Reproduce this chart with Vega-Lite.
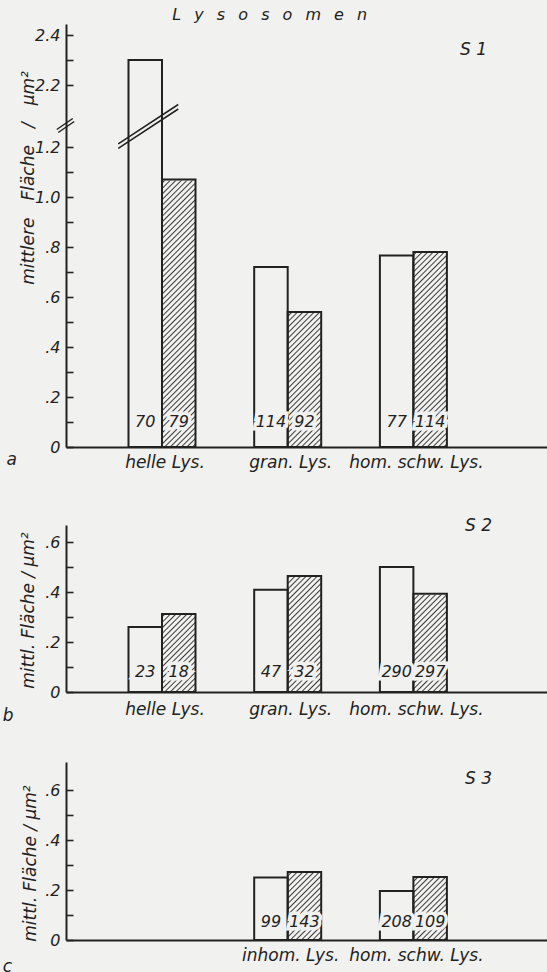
{
  "$schema": "https://vega.github.io/schema/vega-lite/v6.json",
  "background": "#f1f1ef",
  "padding": {"left": 2, "top": 7, "right": 0, "bottom": 0},
  "params": [
    {
      "name": "hatch",
      "value": {
        "gradient": "linear", "x1": 0, "y1": 0, "x2": 0.13466, "y2": 1.10542,
        "stops": [
          {"offset": 0, "color": "#383838"}, {"offset": 0.0045, "color": "#f1f1ef"}, {"offset": 0.0135, "color": "#f1f1ef"},
          {"offset": 0.018, "color": "#383838"}, {"offset": 0.0225, "color": "#f1f1ef"}, {"offset": 0.0315, "color": "#f1f1ef"},
          {"offset": 0.036, "color": "#383838"}, {"offset": 0.0405, "color": "#f1f1ef"}, {"offset": 0.0495, "color": "#f1f1ef"},
          {"offset": 0.054, "color": "#383838"}, {"offset": 0.0585, "color": "#f1f1ef"}, {"offset": 0.0675, "color": "#f1f1ef"},
          {"offset": 0.072, "color": "#383838"}, {"offset": 0.0765, "color": "#f1f1ef"}, {"offset": 0.0855, "color": "#f1f1ef"},
          {"offset": 0.09, "color": "#383838"}, {"offset": 0.0945, "color": "#f1f1ef"}, {"offset": 0.1035, "color": "#f1f1ef"},
          {"offset": 0.108, "color": "#383838"}, {"offset": 0.1125, "color": "#f1f1ef"}, {"offset": 0.1215, "color": "#f1f1ef"},
          {"offset": 0.126, "color": "#383838"}, {"offset": 0.1305, "color": "#f1f1ef"}, {"offset": 0.1395, "color": "#f1f1ef"},
          {"offset": 0.144, "color": "#383838"}, {"offset": 0.1485, "color": "#f1f1ef"}, {"offset": 0.1575, "color": "#f1f1ef"},
          {"offset": 0.162, "color": "#383838"}, {"offset": 0.1665, "color": "#f1f1ef"}, {"offset": 0.1755, "color": "#f1f1ef"},
          {"offset": 0.18, "color": "#383838"}, {"offset": 0.1845, "color": "#f1f1ef"}, {"offset": 0.1935, "color": "#f1f1ef"},
          {"offset": 0.198, "color": "#383838"}, {"offset": 0.2025, "color": "#f1f1ef"}, {"offset": 0.2115, "color": "#f1f1ef"},
          {"offset": 0.216, "color": "#383838"}, {"offset": 0.2205, "color": "#f1f1ef"}, {"offset": 0.2295, "color": "#f1f1ef"},
          {"offset": 0.234, "color": "#383838"}, {"offset": 0.2385, "color": "#f1f1ef"}, {"offset": 0.2475, "color": "#f1f1ef"},
          {"offset": 0.252, "color": "#383838"}, {"offset": 0.2565, "color": "#f1f1ef"}, {"offset": 0.2655, "color": "#f1f1ef"},
          {"offset": 0.27, "color": "#383838"}, {"offset": 0.2745, "color": "#f1f1ef"}, {"offset": 0.2835, "color": "#f1f1ef"},
          {"offset": 0.288, "color": "#383838"}, {"offset": 0.2925, "color": "#f1f1ef"}, {"offset": 0.3015, "color": "#f1f1ef"},
          {"offset": 0.306, "color": "#383838"}, {"offset": 0.3105, "color": "#f1f1ef"}, {"offset": 0.3195, "color": "#f1f1ef"},
          {"offset": 0.324, "color": "#383838"}, {"offset": 0.3285, "color": "#f1f1ef"}, {"offset": 0.3375, "color": "#f1f1ef"},
          {"offset": 0.342, "color": "#383838"}, {"offset": 0.3465, "color": "#f1f1ef"}, {"offset": 0.3555, "color": "#f1f1ef"},
          {"offset": 0.36, "color": "#383838"}, {"offset": 0.3645, "color": "#f1f1ef"}, {"offset": 0.3735, "color": "#f1f1ef"},
          {"offset": 0.378, "color": "#383838"}, {"offset": 0.3825, "color": "#f1f1ef"}, {"offset": 0.3915, "color": "#f1f1ef"},
          {"offset": 0.396, "color": "#383838"}, {"offset": 0.4005, "color": "#f1f1ef"}, {"offset": 0.4095, "color": "#f1f1ef"},
          {"offset": 0.414, "color": "#383838"}, {"offset": 0.4185, "color": "#f1f1ef"}, {"offset": 0.4275, "color": "#f1f1ef"},
          {"offset": 0.432, "color": "#383838"}, {"offset": 0.4365, "color": "#f1f1ef"}, {"offset": 0.4455, "color": "#f1f1ef"},
          {"offset": 0.45, "color": "#383838"}, {"offset": 0.4545, "color": "#f1f1ef"}, {"offset": 0.4635, "color": "#f1f1ef"},
          {"offset": 0.468, "color": "#383838"}, {"offset": 0.4725, "color": "#f1f1ef"}, {"offset": 0.4815, "color": "#f1f1ef"},
          {"offset": 0.486, "color": "#383838"}, {"offset": 0.4905, "color": "#f1f1ef"}, {"offset": 0.4995, "color": "#f1f1ef"},
          {"offset": 0.504, "color": "#383838"}, {"offset": 0.5085, "color": "#f1f1ef"}, {"offset": 0.5175, "color": "#f1f1ef"},
          {"offset": 0.522, "color": "#383838"}, {"offset": 0.5265, "color": "#f1f1ef"}, {"offset": 0.5355, "color": "#f1f1ef"},
          {"offset": 0.54, "color": "#383838"}, {"offset": 0.5445, "color": "#f1f1ef"}, {"offset": 0.5535, "color": "#f1f1ef"},
          {"offset": 0.558, "color": "#383838"}, {"offset": 0.5625, "color": "#f1f1ef"}, {"offset": 0.5715, "color": "#f1f1ef"},
          {"offset": 0.576, "color": "#383838"}, {"offset": 0.5805, "color": "#f1f1ef"}, {"offset": 0.5895, "color": "#f1f1ef"},
          {"offset": 0.594, "color": "#383838"}, {"offset": 0.5985, "color": "#f1f1ef"}, {"offset": 0.6075, "color": "#f1f1ef"},
          {"offset": 0.612, "color": "#383838"}, {"offset": 0.6165, "color": "#f1f1ef"}, {"offset": 0.6255, "color": "#f1f1ef"},
          {"offset": 0.63, "color": "#383838"}, {"offset": 0.6345, "color": "#f1f1ef"}, {"offset": 0.6435, "color": "#f1f1ef"},
          {"offset": 0.648, "color": "#383838"}, {"offset": 0.6525, "color": "#f1f1ef"}, {"offset": 0.6615, "color": "#f1f1ef"},
          {"offset": 0.666, "color": "#383838"}, {"offset": 0.6705, "color": "#f1f1ef"}, {"offset": 0.6795, "color": "#f1f1ef"},
          {"offset": 0.684, "color": "#383838"}, {"offset": 0.6885, "color": "#f1f1ef"}, {"offset": 0.6975, "color": "#f1f1ef"},
          {"offset": 0.702, "color": "#383838"}, {"offset": 0.7065, "color": "#f1f1ef"}, {"offset": 0.7155, "color": "#f1f1ef"},
          {"offset": 0.72, "color": "#383838"}, {"offset": 0.7245, "color": "#f1f1ef"}, {"offset": 0.7335, "color": "#f1f1ef"},
          {"offset": 0.738, "color": "#383838"}, {"offset": 0.7425, "color": "#f1f1ef"}, {"offset": 0.7515, "color": "#f1f1ef"},
          {"offset": 0.756, "color": "#383838"}, {"offset": 0.7605, "color": "#f1f1ef"}, {"offset": 0.7695, "color": "#f1f1ef"},
          {"offset": 0.774, "color": "#383838"}, {"offset": 0.7785, "color": "#f1f1ef"}, {"offset": 0.7875, "color": "#f1f1ef"},
          {"offset": 0.792, "color": "#383838"}, {"offset": 0.7965, "color": "#f1f1ef"}, {"offset": 0.8055, "color": "#f1f1ef"},
          {"offset": 0.81, "color": "#383838"}, {"offset": 0.8145, "color": "#f1f1ef"}, {"offset": 0.8235, "color": "#f1f1ef"},
          {"offset": 0.828, "color": "#383838"}, {"offset": 0.8325, "color": "#f1f1ef"}, {"offset": 0.8415, "color": "#f1f1ef"},
          {"offset": 0.846, "color": "#383838"}, {"offset": 0.8505, "color": "#f1f1ef"}, {"offset": 0.8595, "color": "#f1f1ef"},
          {"offset": 0.864, "color": "#383838"}, {"offset": 0.8685, "color": "#f1f1ef"}, {"offset": 0.8775, "color": "#f1f1ef"},
          {"offset": 0.882, "color": "#383838"}, {"offset": 0.8865, "color": "#f1f1ef"}, {"offset": 0.8955, "color": "#f1f1ef"},
          {"offset": 0.9, "color": "#383838"}, {"offset": 0.9045, "color": "#f1f1ef"}, {"offset": 0.9135, "color": "#f1f1ef"},
          {"offset": 0.918, "color": "#383838"}, {"offset": 0.9225, "color": "#f1f1ef"}, {"offset": 0.9315, "color": "#f1f1ef"},
          {"offset": 0.936, "color": "#383838"}, {"offset": 0.9405, "color": "#f1f1ef"}, {"offset": 0.9495, "color": "#f1f1ef"},
          {"offset": 0.954, "color": "#383838"}, {"offset": 0.9585, "color": "#f1f1ef"}, {"offset": 0.9675, "color": "#f1f1ef"},
          {"offset": 0.972, "color": "#383838"}, {"offset": 0.9765, "color": "#f1f1ef"}, {"offset": 0.9855, "color": "#f1f1ef"},
          {"offset": 0.99, "color": "#383838"}, {"offset": 0.9945, "color": "#f1f1ef"}, {"offset": 1, "color": "#f1f1ef"}
        ]
      }
    }
  ],
  "datasets": {
    "s1": [
      {"kat": "helle Lys.", "gruppe": "A", "wert": 2.3, "n": 70},
      {"kat": "helle Lys.", "gruppe": "B", "wert": 1.07, "n": 79},
      {"kat": "gran. Lys.", "gruppe": "A", "wert": 0.72, "n": 114},
      {"kat": "gran. Lys.", "gruppe": "B", "wert": 0.54, "n": 92},
      {"kat": "hom. schw. Lys.", "gruppe": "A", "wert": 0.766, "n": 77},
      {"kat": "hom. schw. Lys.", "gruppe": "B", "wert": 0.78, "n": 114}
    ],
    "s2": [
      {"kat": "helle Lys.", "gruppe": "A", "wert": 0.26, "n": 23},
      {"kat": "helle Lys.", "gruppe": "B", "wert": 0.312, "n": 18},
      {"kat": "gran. Lys.", "gruppe": "A", "wert": 0.409, "n": 47},
      {"kat": "gran. Lys.", "gruppe": "B", "wert": 0.464, "n": 32},
      {"kat": "hom. schw. Lys.", "gruppe": "A", "wert": 0.5, "n": 290},
      {"kat": "hom. schw. Lys.", "gruppe": "B", "wert": 0.393, "n": 297}
    ],
    "s3": [
      {"kat": "inhom. Lys.", "gruppe": "A", "wert": 0.25, "n": 99},
      {"kat": "inhom. Lys.", "gruppe": "B", "wert": 0.272, "n": 143},
      {"kat": "hom. schw. Lys.", "gruppe": "A", "wert": 0.196, "n": 208},
      {"kat": "hom. schw. Lys.", "gruppe": "B", "wert": 0.252, "n": 109}
    ]
  },
  "title": {
    "text": "L\u2002 y\u2002 s\u2002 o\u2002 s\u2002 o\u2002 m\u2002 e\u2002 n",
    "anchor": "start", "dx": 170, "offset": -12, "baseline": "alphabetic", "fontSize": 16
  },
  "bounds": "flush",
  "spacing": 0,
  "vconcat": [
    {
      "width": 481, "height": 423,
      "data": {"name": "s1"},
      "title": {"text": "S 1", "anchor": "end", "dx": -60, "offset": -48, "baseline": "alphabetic"},
      "encoding": {
        "x": {"field": "kat", "type": "nominal",
              "scale": {"domain": ["helle Lys.", "gran. Lys.", "hom. schw. Lys."], "paddingInner": 0, "paddingOuter": 0.4133, "align": 0.319},
              "axis": {"title": "a", "titleX": -54.7, "titleY": 12, "titleAlign": "center", "titleBaseline": "middle", "titleAngle": 0, "labelAngle": 0, "labelOffset": 3}},
        "xOffset": {"field": "gruppe", "type": "nominal", "scale": {"domain": ["A", "B"], "paddingInner": 0, "paddingOuter": 0.876}}
      },
      "layer": [
        {
          "transform": [{"filter": "datum.gruppe == 'B'"}],
          "mark": {"type": "bar", "fill": {"expr": "hatch"}, "strokeWidth": 0},
          "encoding": {
            "y": {"datum": 1.1, "type": "quantitative", "scale": {"domain": [0, 1.288, 2.04, 2.444], "range": [423, 101, 101, 0], "nice": false, "zero": false}},
            "y2": {"datum": 0}
          }
        },
        {
          "transform": [{"filter": "datum.gruppe == 'B'"}],
          "mark": {"type": "bar", "fill": "#f1f1ef", "stroke": "#f1f1ef", "strokeWidth": 2},
          "encoding": {
            "y": {"field": "wert", "type": "quantitative", "scale": {"domain": [0, 1.288, 2.04, 2.444], "range": [423, 101, 101, 0], "nice": false, "zero": false}},
            "y2": {"datum": 1.1}
          }
        },
        {
          "mark": {"type": "bar", "fill": "#f1f1ef", "fillOpacity": 0, "stroke": "#222222", "strokeWidth": 2, "strokeJoin": "miter"},
          "encoding": {
            "y": {"field": "wert", "type": "quantitative",
                  "scale": {"domain": [0, 1.288, 2.04, 2.444], "range": [423, 101, 101, 0], "nice": false, "zero": false},
                  "axis": {"values": [0, 0.1, 0.2, 0.3, 0.4, 0.5, 0.6, 0.7, 0.8, 0.9, 1.0, 1.1, 1.2, 2.2, 2.3, 2.4],
                           "labelExpr": "datum.value == 0 ? '0' : (round(datum.value * 10) % 2 == 1 ? '' : (datum.value < 1 ? '.' + round(datum.value * 10) : format(datum.value, '.1f')))",
                           "title": "mittlere\u2003Fläche\u2003/\u2003µm²", "titleX": -33, "titleY": 153.5, "titleAlign": "center", "titleBaseline": "alphabetic", "titleAngle": -90}},
            "y2": {"datum": 0}
          }
        },
        {
          "mark": {"type": "text", "dy": -20, "baseline": "alphabetic", "fontSize": 16, "fontStyle": "italic", "fill": "#f1f1ef", "stroke": "#f1f1ef", "strokeWidth": 7},
          "encoding": {"y": {"datum": 0, "type": "quantitative"}, "text": {"field": "n"}}
        },
        {
          "mark": {"type": "text", "dy": -20, "baseline": "alphabetic", "fontSize": 16, "fontStyle": "italic", "fill": "#222222"},
          "encoding": {"y": {"datum": 0, "type": "quantitative"}, "text": {"field": "n"}}
        },
        {
          "transform": [{"filter": "datum.wert > 1.288"}],
          "mark": {"type": "point", "shape": "M-88.5 4.5L-72.5 -6.5M-87 7.5L-71 -3.5M-27 18.8L33 -20.5M-27 23.3L33 -16", "size": 4, "filled": false, "opacity": 1, "stroke": "#222222", "strokeWidth": 1.5},
          "encoding": {"y": {"datum": 1.29, "type": "quantitative"}}
        }
      ]
    },
    {
      "width": 481, "height": 78,
      "data": {"values": []},
      "mark": "point"
    },
    {
      "width": 481, "height": 167,
      "data": {"name": "s2"},
      "title": {"text": "S 2", "anchor": "end", "dx": -55, "offset": -23, "baseline": "alphabetic"},
      "encoding": {
        "x": {"field": "kat", "type": "nominal",
              "scale": {"domain": ["helle Lys.", "gran. Lys.", "hom. schw. Lys."], "paddingInner": 0, "paddingOuter": 0.4133, "align": 0.319},
              "axis": {"title": "b", "titleX": -58.3, "titleY": 23.7, "titleAlign": "center", "titleBaseline": "middle", "titleAngle": 0, "labelAngle": 0, "labelPadding": 9, "labelOffset": 3}},
        "xOffset": {"field": "gruppe", "type": "nominal", "scale": {"domain": ["A", "B"], "paddingInner": 0, "paddingOuter": 0.876}}
      },
      "layer": [
        {
          "transform": [{"filter": "datum.gruppe == 'B'"}],
          "mark": {"type": "bar", "fill": {"expr": "hatch"}, "strokeWidth": 0, "clip": true},
          "encoding": {
            "y": {"datum": 1.1, "type": "quantitative", "scale": {"domain": [0, 0.668], "nice": false}},
            "y2": {"datum": 0}
          }
        },
        {
          "transform": [{"filter": "datum.gruppe == 'B'"}],
          "mark": {"type": "bar", "fill": "#f1f1ef", "stroke": "#f1f1ef", "strokeWidth": 2, "clip": true},
          "encoding": {
            "y": {"field": "wert", "type": "quantitative", "scale": {"domain": [0, 0.668], "nice": false}},
            "y2": {"datum": 1.1}
          }
        },
        {
          "mark": {"type": "bar", "fill": "#f1f1ef", "fillOpacity": 0, "stroke": "#222222", "strokeWidth": 2, "strokeJoin": "miter"},
          "encoding": {
            "y": {"field": "wert", "type": "quantitative",
                  "scale": {"domain": [0, 0.668], "nice": false},
                  "axis": {"values": [0, 0.1, 0.2, 0.3, 0.4, 0.5, 0.6],
                           "labelExpr": "datum.value == 0 ? '0' : (round(datum.value * 10) % 2 == 1 ? '' : (datum.value < 1 ? '.' + round(datum.value * 10) : format(datum.value, '.1f')))",
                           "title": "mittl. Fläche / µm²", "titleX": -33, "titleY": 85, "titleAlign": "center", "titleBaseline": "alphabetic", "titleAngle": -90}},
            "y2": {"datum": 0}
          }
        },
        {
          "mark": {"type": "text", "dy": -15, "baseline": "alphabetic", "fontSize": 16, "fontStyle": "italic", "fill": "#f1f1ef", "stroke": "#f1f1ef", "strokeWidth": 7},
          "encoding": {"y": {"datum": 0, "type": "quantitative"}, "text": {"field": "n"}}
        },
        {
          "mark": {"type": "text", "dy": -15, "baseline": "alphabetic", "fontSize": 16, "fontStyle": "italic", "fill": "#222222"},
          "encoding": {"y": {"datum": 0, "type": "quantitative"}, "text": {"field": "n"}}
        }
      ]
    },
    {
      "width": 481, "height": 70,
      "data": {"values": []},
      "mark": "point"
    },
    {
      "width": 481, "height": 178,
      "data": {"name": "s3"},
      "title": {"text": "S 3", "anchor": "end", "dx": -55, "offset": -39, "baseline": "alphabetic"},
      "encoding": {
        "x": {"field": "kat", "type": "nominal",
              "scale": {"domain": ["", "inhom. Lys.", "hom. schw. Lys."], "paddingInner": 0, "paddingOuter": 0.4133, "align": 0.319},
              "axis": {"title": "c", "titleX": -59, "titleY": 26, "titleAlign": "center", "titleBaseline": "middle", "titleAngle": 0, "labelAngle": 0, "labelOffset": 3}},
        "xOffset": {"field": "gruppe", "type": "nominal", "scale": {"domain": ["A", "B"], "paddingInner": 0, "paddingOuter": 0.876}}
      },
      "layer": [
        {
          "transform": [{"filter": "datum.gruppe == 'B'"}],
          "mark": {"type": "bar", "fill": {"expr": "hatch"}, "strokeWidth": 0, "clip": true},
          "encoding": {
            "y": {"datum": 1.1, "type": "quantitative", "scale": {"domain": [0, 0.712], "nice": false}},
            "y2": {"datum": 0}
          }
        },
        {
          "transform": [{"filter": "datum.gruppe == 'B'"}],
          "mark": {"type": "bar", "fill": "#f1f1ef", "stroke": "#f1f1ef", "strokeWidth": 2, "clip": true},
          "encoding": {
            "y": {"field": "wert", "type": "quantitative", "scale": {"domain": [0, 0.712], "nice": false}},
            "y2": {"datum": 1.1}
          }
        },
        {
          "mark": {"type": "bar", "fill": "#f1f1ef", "fillOpacity": 0, "stroke": "#222222", "strokeWidth": 2, "strokeJoin": "miter"},
          "encoding": {
            "y": {"field": "wert", "type": "quantitative",
                  "scale": {"domain": [0, 0.712], "nice": false},
                  "axis": {"values": [0, 0.1, 0.2, 0.3, 0.4, 0.5, 0.6],
                           "labelExpr": "datum.value == 0 ? '0' : (round(datum.value * 10) % 2 == 1 ? '' : (datum.value < 1 ? '.' + round(datum.value * 10) : format(datum.value, '.1f')))",
                           "title": "mittl. Fläche / µm²", "titleX": -31, "titleY": 101, "titleAlign": "center", "titleBaseline": "alphabetic", "titleAngle": -90}},
            "y2": {"datum": 0}
          }
        },
        {
          "mark": {"type": "text", "dy": -13, "baseline": "alphabetic", "fontSize": 16, "fontStyle": "italic", "fill": "#f1f1ef", "stroke": "#f1f1ef", "strokeWidth": 7},
          "encoding": {"y": {"datum": 0, "type": "quantitative"}, "text": {"field": "n"}}
        },
        {
          "mark": {"type": "text", "dy": -13, "baseline": "alphabetic", "fontSize": 16, "fontStyle": "italic", "fill": "#222222"},
          "encoding": {"y": {"datum": 0, "type": "quantitative"}, "text": {"field": "n"}}
        }
      ]
    }
  ],
  "config": {
    "font": "DejaVu Sans",
    "view": {"stroke": null},
    "axis": {
      "grid": false,
      "domainColor": "#222222", "domainWidth": 2,
      "tickColor": "#222222", "tickWidth": 1.6,
      "labelColor": "#222222", "labelFontSize": 16, "labelFontStyle": "italic",
      "labelFlush": false, "labelOverlap": false,
      "titleColor": "#222222", "titleFontSize": 17, "titleFontStyle": "italic", "titleFontWeight": "normal"
    },
    "axisY": {"tickSize": -7, "labelPadding": 13, "tickCount": 50},
    "axisX": {"ticks": false, "labelPadding": 7, "labelFontSize": 17},
    "title": {"color": "#222222", "fontSize": 17, "fontStyle": "italic", "fontWeight": "normal"}
  }
}
